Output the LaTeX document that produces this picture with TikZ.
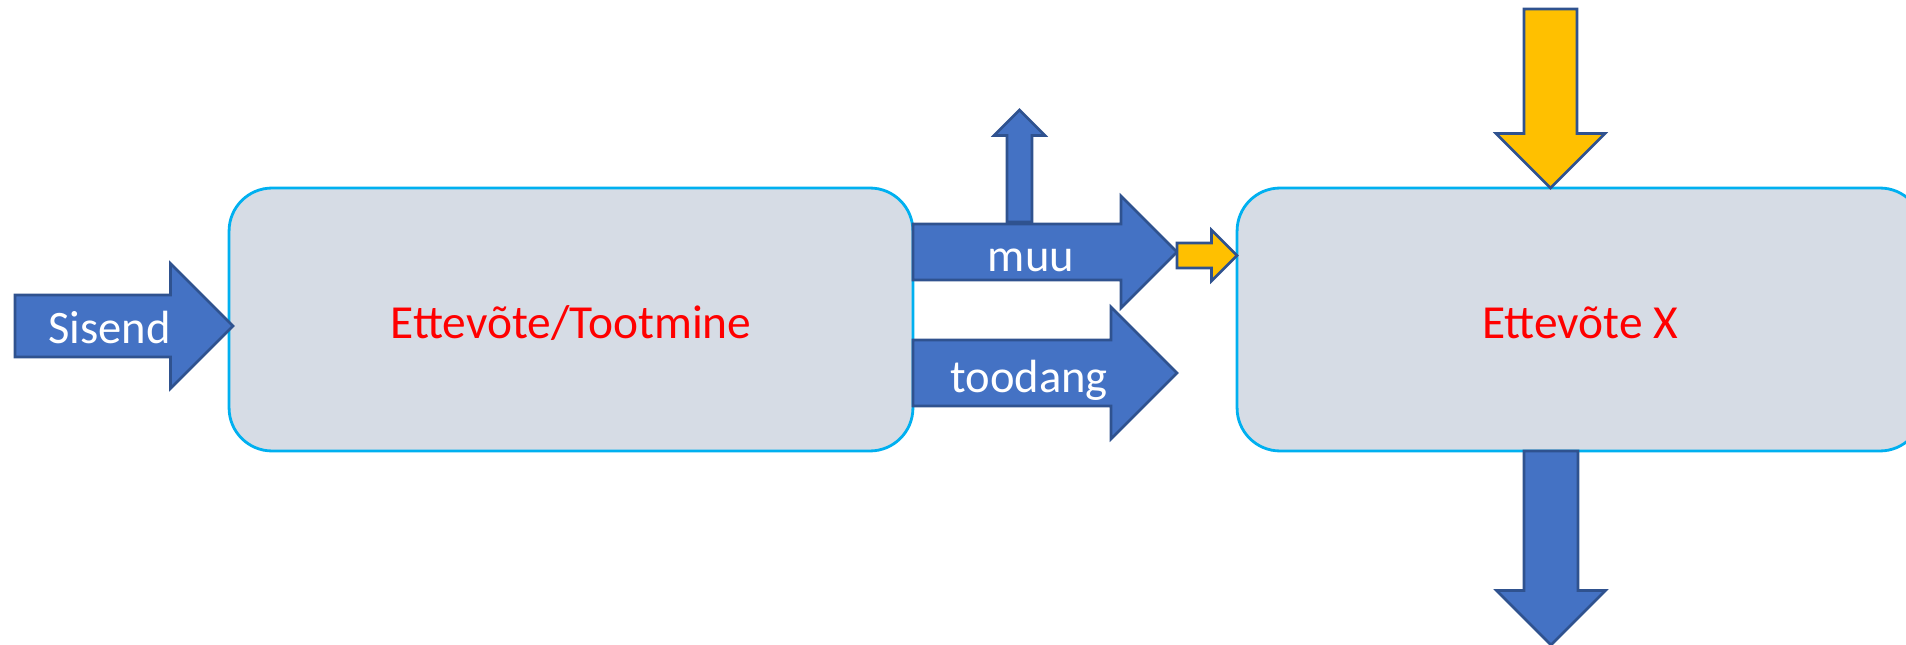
\documentclass[tikz,border=0pt]{standalone}
\usepackage{fontspec}
\setmainfont{Carlito}
\usepackage{tikz}
\usetikzlibrary{calc}

\definecolor{arrowblue}{HTML}{4472C4}
\definecolor{arrowedge}{HTML}{2F528F}
\definecolor{gold}{HTML}{FFC000}
\definecolor{boxfill}{HTML}{D6DCE5}
\definecolor{boxedge}{HTML}{00B0F0}

\begin{document}
\begin{tikzpicture}[x=0.02cm,y=-0.02cm]
    \tikzstyle{box} = [
      rectangle,
      draw=boxedge,
      fill=boxfill,
      line width=1.6pt,
      rounded corners=0.86cm,
      minimum height=5.26cm,
    ]
    \tikzstyle{bluearrow} = [
      draw=arrowedge,
      fill=arrowblue,
      line width=1.5pt,
      line join=miter,
    ]
    \tikzstyle{goldarrow} = [
      bluearrow,
      fill=gold,
    ]
    \tikzstyle{arrowtext} = [
      anchor=base,
      inner sep=0pt,
      text=white,
      font=\fontsize{26.5}{32}\selectfont,
    ]
    \tikzstyle{boxtext} = [
      arrowtext,
      text=red,
      font=\fontsize{27}{32}\selectfont,
    ]

    % tail, length, shaft width, head width, direction
    \newcommand{\blockarrow}[6][bluearrow]{%
      \draw[#1,shift={(#2)},rotate=#6] (0,-#4/2) -- ({#3-#5/2},-#4/2) -- ({#3-#5/2},-#5/2)
        -- (#3,0) -- ({#3-#5/2},#5/2) -- ({#3-#5/2},#4/2) -- (0,#4/2) -- cycle;}

    \useasboundingbox (0,0) rectangle (1906,645);

    \node[box,minimum width=13.68cm] (prod) at (571,319.5) {};
    \node[box,minimum width=13.72cm] (firm) at (1580,319.5) {};

    \coordinate (sisendtail) at (15,326);
    \coordinate (muutail) at (913,252);
    \coordinate (uptail) at (1019.5,222);
    \coordinate (transfertail) at (1177,255.5);
    \coordinate (toodangtail) at (913,373);
    \coordinate (intail) at (1550.5,9);
    \coordinate (outtail) at (1551,451);

    \blockarrow{sisendtail}{218}{62}{125}{0}
    \blockarrow{muutail}{264}{56}{112}{0}
    \blockarrow{uptail}{112}{25}{51}{90}
    \blockarrow[goldarrow]{transfertail}{60}{25}{51}{0}
    \blockarrow{toodangtail}{264}{66}{132}{0}
    \blockarrow[goldarrow]{intail}{179}{53}{109}{-90}
    \blockarrow{outtail}{194}{54}{109}{-90}

    \node[boxtext] (prodtext) at (571,338) {Ettevõte/Tootmine};
    \node[boxtext] (firmtext) at (1580,338) {Ettevõte X};
    \node[arrowtext] (sisendtext) at (109.5,343) {Sisend};
    \node[arrowtext] (muutext) at (1031,272) {muu};
    \node[arrowtext] (toodangtext) at (1029,392) {toodang};
  \end{tikzpicture}
\end{document}
